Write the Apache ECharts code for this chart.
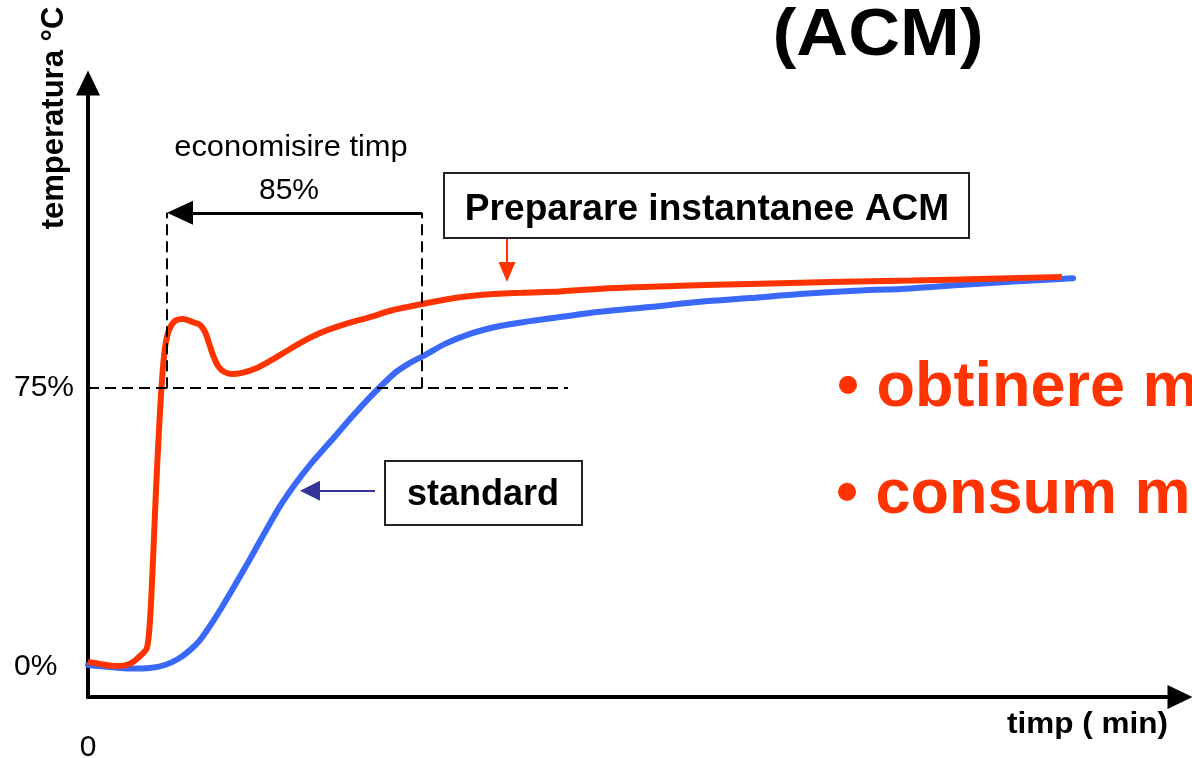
<!DOCTYPE html>
<html><head><meta charset="utf-8">
<script src="https://cdn.jsdelivr.net/npm/echarts@6/dist/echarts.min.js"></script>
<style>html,body{margin:0;padding:0;background:#fff}#c{width:1192px;height:758px}</style>
</head><body><div id="c"></div>
<script>
// ACM curve (red)
const redX = [0,1.2,2.7,3.7,4.5,5.4,5.9,6.2,6.5,6.8,7.1,7.4,7.7,8.1,8.7,9.5,10.4,11.2,11.7,12.1,12.5,13.0,13.6,14.4,15.4,16.7,18.2,19.7,21.2,23.2,25.7,28.2,30.5,33.4,36.2,39.2,43.2,47.2,52.5,59.2,66.2,74.2,82.3,90.0,97.4];
const redY = [1.4,0.9,0.3,0.5,1.4,3.5,5.2,12.7,28.8,47.6,63.8,77.2,85.8,90.6,93.1,93.6,92.8,92.0,90.1,87.1,83.9,81.0,79.4,78.8,79.1,80.2,82.3,84.7,87.1,89.8,92.2,94.1,96.0,97.6,99.0,100.0,100.6,101.0,101.9,102.5,103.0,103.5,103.9,104.4,104.9];
// standard curve (blue)
const blueX = [0,2.2,4.2,6.2,7.7,9.0,10.2,11.2,12.2,13.4,14.7,16.2,17.7,19.2,20.7,22.2,24.2,26.2,28.2,30.7,32.2,33.7,35.7,38.2,41.2,44.2,47.2,51.2,56.2,61.2,66.2,71.2,76.2,82.3,87.5,93.0,98.5];
const blueY = [0.6,0.05,-0.35,-0.2,0.6,2.2,4.6,7.3,11.1,16.2,22.1,29.1,36.3,43.3,49.2,54.4,60.5,66.7,72.6,79.1,81.8,83.9,86.9,89.6,91.7,93.0,94.1,95.5,96.8,98.2,99.2,100.3,101.1,101.8,102.8,103.7,104.5];
// tick labels
const yTickLabels = {0: '0%', 75: '75%'};
const xTickLabels = {0: '0'};
// guide values
const level75 = 75;
const level75End = 48;
const acmReachX = 7.9;
const stdReachX = 33.4;
const savingArrowY = 122.1;
const savingArrowEndX = 9.2;
const acmArrow = {x: 41.9, from: 115.4, to: 106.2};
const stdArrow = {y: 47.4, from: 28.7, to: 22.2};

const FF = 'Liberation Sans, Arial, sans-serif';
const chart = echarts.init(document.getElementById('c'));
function pairs(xs, ys){ return xs.map((x,i)=>[x, ys[i]]); }
function guideSeries(lines, color, width, type, symbol, symbolSize){
  return {
    type: 'line', data: [], silent: true,
    markLine: {
      silent: true, animation: false,
      symbol: symbol, symbolSize: symbolSize,
      label: {show: false},
      emphasis: {disabled: true},
      lineStyle: {color: color, width: width, type: type, opacity: 1},
      data: lines
    }
  };
}
const option = {
  animation: false,
  backgroundColor: '#fff',
  grid: {left: 88, right: 12, top: 83, bottom: 61, containLabel: false, outerBoundsMode: 'none'},
  xAxis: {
    type: 'value', min: 0, max: 109.2, interval: 109.2,
    axisLine: {onZero: false, lineStyle: {color: '#000', width: 4}, symbol: ['none','triangle'], symbolSize: [24, 25]},
    axisTick: {show: false}, splitLine: {show: false},
    axisLabel: {margin: 36, fontSize: 30, color: '#000', fontFamily: FF,
      formatter: v => xTickLabels[v] !== undefined ? xTickLabels[v] : ''}
  },
  yAxis: {
    type: 'value', min: -8, max: 157, interval: 1,
    axisLine: {show: true, onZero: false, lineStyle: {color: '#000', width: 4}, symbol: ['none','triangle'], symbolSize: [24, 25]},
    axisTick: {show: false}, splitLine: {show: false},
    axisLabel: {margin: 74, align: 'left', fontSize: 30, color: '#000', fontFamily: FF, padding: [20, 0, 0, 0],
      formatter: v => yTickLabels[v] !== undefined ? yTickLabels[v] : ''}
  },
  series: [
    {type: 'line', name: 'standard', data: pairs(blueX, blueY), showSymbol: false, smooth: 0.3,
     lineStyle: {color: '#3a68f8', width: 6, cap: 'round'}, z: 3},
    {type: 'line', name: 'ACM', data: pairs(redX, redY), showSymbol: false, smooth: 0.3,
     lineStyle: {color: '#ff3300', width: 6}, z: 4},
    guideSeries([
      [{coord: [0, level75]}, {coord: [level75End, level75]}],
      [{coord: [acmReachX, level75]}, {coord: [acmReachX, savingArrowY]}],
      [{coord: [stdReachX, level75]}, {coord: [stdReachX, savingArrowY]}]
    ], '#000', 2, [11, 6], ['none','none'], 0),
    guideSeries([
      [{coord: [stdReachX, savingArrowY]}, {coord: [savingArrowEndX, savingArrowY]}]
    ], '#000', 3, 'solid', ['none','triangle'], [24, 26]),
    guideSeries([
      [{coord: [acmArrow.x, acmArrow.from]}, {coord: [acmArrow.x, acmArrow.to]}]
    ], '#ff3300', 2, 'solid', ['none','triangle'], [17, 20]),
    guideSeries([
      [{coord: [stdArrow.from, stdArrow.y]}, {coord: [stdArrow.to, stdArrow.y]}]
    ], '#333399', 2, 'solid', ['none','triangle'], [20, 20])
  ],
  graphic: [
    {type: 'rect', z: 10, shape: {x: 444, y: 173, width: 525, height: 65}, style: {fill: '#fff', stroke: '#222', lineWidth: 2}},
    {type: 'rect', z: 10, shape: {x: 385, y: 461, width: 197, height: 64}, style: {fill: '#fff', stroke: '#222', lineWidth: 2}},
    {type: 'text', z: 11, x: 707, y: 210, scaleX: 1.03, style: {text: 'Preparare instantanee ACM', fontSize: 36, fontWeight: 'bold', fontFamily: FF, fill: '#000', align: 'center', verticalAlign: 'middle'}},
    {type: 'text', z: 11, x: 483, y: 495, style: {text: 'standard', fontSize: 36, fontWeight: 'bold', fontFamily: FF, fill: '#000', align: 'center', verticalAlign: 'middle'}},
    {type: 'text', z: 11, x: 291, y: 148, scaleX: 1.03, style: {text: 'economisire timp', fontSize: 30, fontFamily: FF, fill: '#000', align: 'center', verticalAlign: 'middle'}},
    {type: 'text', z: 11, x: 289, y: 191, style: {text: '85%', fontSize: 30, fontFamily: FF, fill: '#000', align: 'center', verticalAlign: 'middle'}},
    {type: 'text', z: 11, x: 878, y: 37, scaleX: 1.07, style: {text: '(ACM)', fontSize: 67, fontWeight: 'bold', fontFamily: FF, fill: '#000', align: 'center', verticalAlign: 'middle'}},
    {type: 'text', z: 11, x: 837, y: 389, style: {text: '• obtinere m', fontSize: 63, fontWeight: 'bold', fontFamily: FF, fill: '#ff3300', align: 'left', verticalAlign: 'middle'}},
    {type: 'text', z: 11, x: 836, y: 496, style: {text: '• consum m', fontSize: 63, fontWeight: 'bold', fontFamily: FF, fill: '#ff3300', align: 'left', verticalAlign: 'middle'}},
    {type: 'text', z: 11, x: 1168, y: 725, scaleX: 1.05, style: {text: 'timp ( min)', fontSize: 30, fontWeight: 'bold', fontFamily: FF, fill: '#000', align: 'right', verticalAlign: 'middle'}},
    {type: 'text', z: 11, x: 54, y: 118, rotation: Math.PI/2, style: {text: 'temperatura °C', fontSize: 31, fontWeight: 'bold', fontFamily: FF, fill: '#000', align: 'center', verticalAlign: 'middle'}}
  ]
};
chart.setOption(option);
</script>
</body></html>
